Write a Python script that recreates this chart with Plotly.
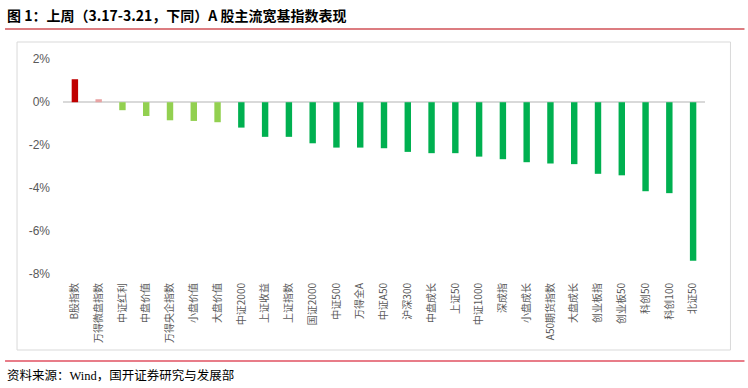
import plotly.graph_objects as go

categories = ["B股指数", "万得微盘指数", "中证红利", "中盘价值", "万得央企指数", "小盘价值", "大盘价值",
              "中证2000", "上证收益", "上证指数", "国证2000", "中证500", "万得全A", "中证A50",
              "沪深300", "中盘成长", "上证50", "中证1000", "深成指", "小盘成长", "A50期货指数",
              "大盘成长", "创业板指", "创业板50", "科创50", "科创100", "北证50"]
values = [1.07, 0.14, -0.37, -0.64, -0.84, -0.87, -0.93,
          -1.18, -1.61, -1.61, -1.91, -2.11, -2.11, -2.14,
          -2.31, -2.37, -2.37, -2.53, -2.65, -2.79, -2.85,
          -2.88, -3.33, -3.40, -4.14, -4.23, -7.37]
bar_colors = (["#C00000", "#E8A3A3"] + ["#92D050"] * 5 + ["#00B050"] * 20)
tick_vals = [2, 0, -2, -4, -6, -8]
tick_text = ["2%", "0%", "-2%", "-4%", "-6%", "-8%"]

title_text = "图 1：上周（3.17-3.21，下同）A 股主流宽基指数表现"
source_text = "资料来源：Wind，国开证券研究与发展部"

L, R, T, B = 63, 42.5, 50, 108
W, H = 748, 388
pw = W - L - R
ph = H - T - B

def px(x):
    return (x - L) / pw

def py(y):
    return (H - B - y) / ph

fig = go.Figure()
fig.add_trace(go.Bar(
    x=categories, y=values, marker=dict(color=bar_colors, line=dict(width=0)),
    width=0.27, hoverinfo="x+y"))

fig.update_layout(
    width=W, height=H,
    margin=dict(l=L, r=R, t=T, b=B),
    paper_bgcolor="white", plot_bgcolor="white",
    showlegend=False,
    font=dict(family="Liberation Sans, Noto Sans CJK SC", color="#595959"),
    xaxis=dict(type="category", tickangle=-90, showgrid=False, showline=False,
               tickfont=dict(size=10, family="Noto Sans CJK SC", color="#595959"),
               ticks="", range=[-0.5, 26.5]),
    yaxis=dict(range=[-8.27, 2.43], tickvals=tick_vals, ticktext=tick_text,
               showgrid=False, showline=False, zeroline=True, zerolinecolor="#D9D9D9",
               zerolinewidth=2, ticks="", ticklabelstandoff=12,
               tickfont=dict(size=12, family="Liberation Sans", color="#595959")),
    shapes=[
        dict(type="rect", xref="paper", yref="paper", x0=px(17), x1=px(731), y0=py(350), y1=py(42),
             line=dict(color="#D9D9D9", width=1), fillcolor="rgba(0,0,0,0)", layer="below"),
        dict(type="line", xref="paper", yref="paper", x0=px(5), x1=px(745), y0=py(29), y1=py(29),
             line=dict(color="#DC7C80", width=2)),
        dict(type="line", xref="paper", yref="paper", x0=px(5), x1=px(745), y0=py(361), y1=py(361),
             line=dict(color="#E05060", width=1.5)),
    ],
    annotations=[
        dict(text="<b>" + title_text + "</b>", xref="paper", yref="paper", x=px(5), y=py(15),
             xanchor="left", yanchor="middle", showarrow=False,
             font=dict(size=14, family="Noto Sans CJK SC", color="#000000")),
        dict(text=source_text, xref="paper", yref="paper", x=px(5), y=py(375),
             xanchor="left", yanchor="middle", showarrow=False,
             font=dict(size=12.5, family="Liberation Serif, Noto Sans CJK SC", color="#000000")),
    ],
)

fig.write_html("out.html", config={"displayModeBar": False},
               post_script="document.body.style.margin='0';document.body.style.overflow='hidden';")
